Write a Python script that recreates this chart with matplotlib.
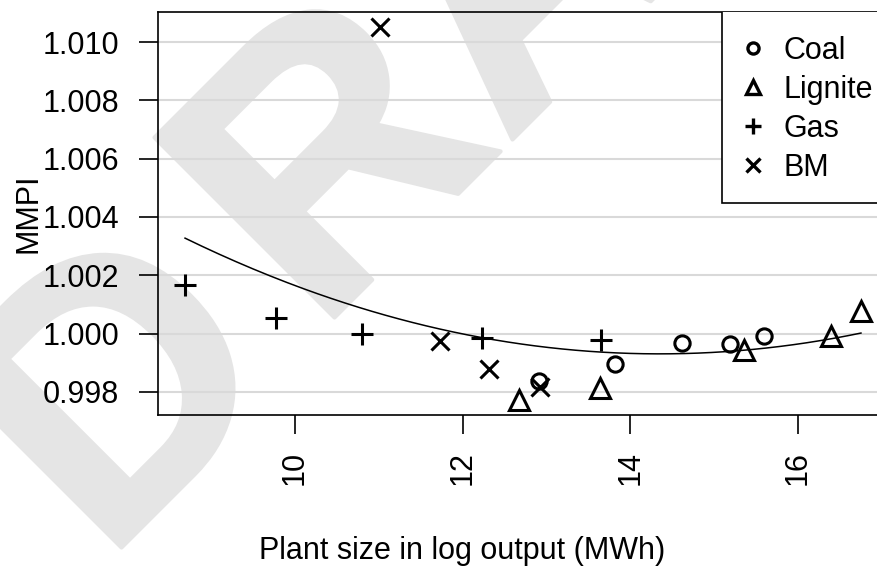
import numpy as np
import matplotlib
matplotlib.use("Agg")
import matplotlib.pyplot as plt
from matplotlib.lines import Line2D
from matplotlib.patches import Rectangle
import matplotlib.patheffects as pe

plt.rcParams['font.family'] = ['Liberation Sans', 'DejaVu Sans']

# log output (MWh) and MMPI per plant, by fuel
coal_x = [12.91, 13.82, 14.62, 15.19, 15.59]
coal_y = [0.99838, 0.99897, 0.99969, 0.99966, 0.99993]
lignite_x = [12.67, 13.64, 15.36, 16.39, 16.75]
lignite_y = [0.99772, 0.99814, 0.99945, 0.99993, 1.00079]
gas_x = [8.69, 9.77, 10.80, 12.23, 13.65]
gas_y = [1.00166, 1.00055, 1.00000, 0.99986, 0.99979]
bm_x = [11.01, 11.73, 12.31, 12.92]
bm_y = [1.01052, 0.99976, 0.99879, 0.99817]

# quadratic fit MMPI ~ x + x^2 (coefficients, highest power first)
fit_coef = [0.0001239, -0.003556, 1.02482]

x_ticks = [10, 12, 14, 16]
y_ticks = [0.998, 1.000, 1.002, 1.004, 1.006, 1.008, 1.010]
labels = ['Coal', 'Lignite', 'Gas', 'BM']

W, H = 878, 570
fig = plt.figure(figsize=(W / 100, H / 100), dpi=100)

# DRAFT watermark, one letter at a time, rotated 45 deg (pixel origins)
wm_col = '#e5e5e5'
em = 370
d = em / np.sqrt(2)
wm_origins = {'D': (104, 565), 'R': (317, 335), 'A': (506, 146),
              'F': (506 + 0.722 * d, 146 - 0.722 * d), 'T': (506 + 1.333 * d, 146 - 1.333 * d)}
for ch, (px, py) in wm_origins.items():
    fig.text(px / W, 1 - py / H, ch, fontsize=em * 0.72, fontweight='bold', color=wm_col,
             family='Liberation Sans', rotation=45, rotation_mode='anchor',
             ha='left', va='baseline', zorder=-1,
             path_effects=[pe.withStroke(linewidth=3, foreground=wm_col, joinstyle='round')])

ax = fig.add_axes([158 / W, 1 - 415 / H, (888 - 158) / W, (415 - 12) / H])
ax.patch.set_alpha(0)

all_x = coal_x + lignite_x + gas_x + bm_x
all_y = coal_y + lignite_y + gas_y + bm_y
xr = max(all_x) - min(all_x)
yr = max(all_y) - min(all_y)
ax.set_xlim(min(all_x) - 0.04 * xr, max(all_x) + 0.04 * xr)
ax.set_ylim(min(all_y) - 0.04 * yr, max(all_y) + 0.04 * yr)

for yt in y_ticks:
    ax.axhline(yt, color='#d9d9d9', lw=1.5, zorder=1)

mk = dict(linestyle='none', color='black', mfc='none', mew=2.2, zorder=3)
ax.plot(coal_x, coal_y, marker='o', ms=11, **mk)
ax.plot(lignite_x, lignite_y, marker='^', ms=14, **mk)
ax.plot(gas_x, gas_y, marker='+', ms=16.5, **mk)
ax.plot(bm_x, bm_y, marker='x', ms=13, **mk)

xs = np.linspace(min(all_x), max(all_x), 200)
ax.plot(xs, np.polyval(fit_coef, xs), color='black', lw=1.1, zorder=2)

ax.set_xticks(x_ticks)
ax.set_xticklabels([str(t) for t in x_ticks], rotation=90)
ax.set_yticks(y_ticks)
ax.set_yticklabels([f'{t:.3f}' for t in y_ticks])
ax.tick_params(length=14, width=1.2, labelsize=22, color='black')
ax.tick_params(axis='y', pad=14)
ax.tick_params(axis='x', pad=12)
for s in ax.spines.values():
    s.set_linewidth(1.2)

ax.set_xlabel('Plant size in log output (MWh)', fontsize=22)
ax.xaxis.set_label_coords(0.5 - (888 + 158 - 2 * 462) / 2 / 730, -0.3)
ax.set_ylabel('MMPI', fontsize=22, va='center')
ax.yaxis.set_label_coords(-0.178, 0.5)

# legend box drawn separately so its padding matches the R-style legend
box = Rectangle(((722 - 158) / 730, (415 - 203) / 403), 0.3, 1.0, transform=ax.transAxes,
                facecolor='white', edgecolor='black', lw=1.2, zorder=4, clip_on=True)
ax.add_patch(box)

lmk = dict(mk, mew=2.4)
handles = [
    Line2D([], [], marker='o', ms=8, **lmk),
    Line2D([], [], marker='^', ms=10, **lmk),
    Line2D([], [], marker='+', ms=12, **lmk),
    Line2D([], [], marker='x', ms=9.5, **lmk),
]
leg = ax.legend(handles, labels, loc='upper right', bbox_to_anchor=(1.0, 0.978),
                borderaxespad=0, fontsize=22, frameon=False, handlelength=0.65,
                handletextpad=0.65, labelspacing=0.29, borderpad=0.5)
leg.set_zorder(5)

fig.savefig('out.png', dpi=100)
